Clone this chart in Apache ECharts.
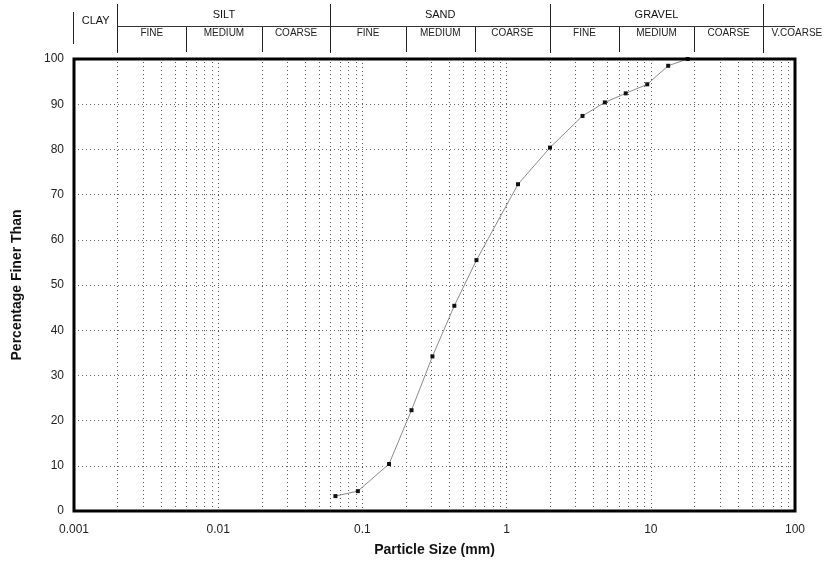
<!DOCTYPE html>
<html>
<head>
<meta charset="utf-8">
<script src="https://cdn.jsdelivr.net/npm/echarts@6/dist/echarts.min.js"></script>
<style>
html,body{margin:0;padding:0;background:#fff;}
#c{width:824px;height:576px;}
</style>
</head>
<body>
<div id="c"></div>
<script>
// ---- data ----
var particleSize = [0.065, 0.093, 0.153, 0.219, 0.306, 0.434, 0.618, 1.2, 2.0, 3.36, 4.8, 6.7, 9.45, 13.2, 18];
var percentFiner = [3.3, 4.4, 10.4, 22.3, 34.2, 45.4, 55.5, 72.3, 80.4, 87.4, 90.4, 92.4, 94.4, 98.5, 100];
var xTickLabels = ['0.001', '0.01', '0.1', '1', '10', '100'];
var yTicks = [0, 10, 20, 30, 40, 50, 60, 70, 80, 90, 100];
var gridDecades = [0.001, 0.01, 0.1, 1, 10];
var gridMultipliers = [2, 3, 4, 5, 6, 7, 8, 9];
var mainDividers = [0.002, 0.06, 2, 60];
var subDividers = [0.006, 0.02, 0.2, 0.6, 6, 20];
var mainBands = [
  {name: 'CLAY', from: 0.001, to: 0.002},
  {name: 'SILT', from: 0.002, to: 0.06},
  {name: 'SAND', from: 0.06, to: 2},
  {name: 'GRAVEL', from: 2, to: 60}
];
var subBands = [
  {name: 'FINE', from: 0.002, to: 0.006},
  {name: 'MEDIUM', from: 0.006, to: 0.02},
  {name: 'COARSE', from: 0.02, to: 0.06},
  {name: 'FINE', from: 0.06, to: 0.2},
  {name: 'MEDIUM', from: 0.2, to: 0.6},
  {name: 'COARSE', from: 0.6, to: 2},
  {name: 'FINE', from: 2, to: 6},
  {name: 'MEDIUM', from: 6, to: 20},
  {name: 'COARSE', from: 20, to: 60},
  {name: 'V.COARSE', from: 60, to: 177}
];

var FONT = '"Liberation Sans", Arial, sans-serif';
var minorValues = [];
gridDecades.forEach(function (d) {
  gridMultipliers.forEach(function (m) { minorValues.push([+(d * m).toPrecision(6)]); });
});

var chart = echarts.init(document.getElementById('c'), null, {renderer: 'canvas'});
var option = {
  animation: false,
  backgroundColor: '#fff',
  grid: {left: 74, right: 29, top: 59, bottom: 65, show: true, borderColor: '#000', borderWidth: 3, backgroundColor: 'transparent', z: 5},
  xAxis: {
    type: 'log', logBase: 10, min: 0.001, max: 100,
    name: 'Particle Size (mm)', nameLocation: 'middle', nameGap: 32,
    nameTextStyle: {fontFamily: FONT, fontSize: 14, fontWeight: 'bold', color: '#111'},
    axisLine: {show: false}, axisTick: {show: false},
    axisLabel: {
      fontFamily: FONT, fontSize: 12, color: '#222', margin: 13,
      formatter: function (v) {
        var i = Math.round(Math.log10(v) + 3);
        return xTickLabels[i] !== undefined ? xTickLabels[i] : '';
      }
    },
    splitLine: {show: true, lineStyle: {color: '#555', width: 1, type: [1, 3]}}
  },
  yAxis: {
    type: 'value', min: 0, max: 100, interval: 10,
    name: 'Percentage Finer Than', nameLocation: 'middle', nameGap: 50,
    nameTextStyle: {fontFamily: FONT, fontSize: 14, fontWeight: 'bold', color: '#111'},
    axisLine: {show: false}, axisTick: {show: false},
    axisLabel: {fontFamily: FONT, fontSize: 12, color: '#222', margin: 10,
      formatter: function (v) { return yTicks.indexOf(v) >= 0 ? String(v) : ''; }},
    splitLine: {show: true, lineStyle: {color: '#666', width: 1, type: [1, 3]}}
  },
  series: [{
    type: 'custom',
    silent: true,
    z: 1,
    data: minorValues,
    renderItem: function (params, api) {
      var p0 = api.coord([api.value(0), 0]);
      var p1 = api.coord([api.value(0), 100]);
      var x = Math.round(p0[0]) + 0.5;
      return {type: 'line', shape: {x1: x, y1: p0[1], x2: x, y2: p1[1]},
        style: {stroke: '#555', lineWidth: 1, lineDash: [1, 3]}};
    }
  }, {
    type: 'line',
    data: particleSize.map(function (x, i) { return [x, percentFiner[i]]; }),
    symbol: 'rect', symbolSize: 4,
    lineStyle: {color: '#8a8a8a', width: 1},
    itemStyle: {color: '#111'},
    z: 3
  }]
};
chart.setOption(option);

// ---- header classification bands (positions from the x axis scale) ----
function px(v) { return chart.convertToPixel({xAxisIndex: 0}, v); }
var g = [];
var lineStyle = {stroke: '#222', lineWidth: 1};
g.push({type: 'line', shape: {x1: Math.round(px(0.001)) - 0.5, y1: 12, x2: Math.round(px(0.001)) - 0.5, y2: 44}, style: lineStyle});
mainDividers.forEach(function (v) {
  var x = Math.round(px(v)) + 0.5;
  g.push({type: 'line', shape: {x1: x, y1: 4, x2: x, y2: 53}, style: lineStyle});
});
subDividers.forEach(function (v) {
  var x = Math.round(px(v)) + 0.5;
  g.push({type: 'line', shape: {x1: x, y1: 26, x2: x, y2: 52}, style: lineStyle});
});
g.push({type: 'line', shape: {x1: px(0.002), y1: 26.5, x2: px(100), y2: 26.5}, style: {stroke: '#333', lineWidth: 1}});
mainBands.forEach(function (b) {
  var x = px(Math.sqrt(b.from * b.to));
  g.push({type: 'text', x: x, y: b.name === 'CLAY' ? 21 : 15,
    style: {text: b.name, fontFamily: FONT, fontSize: 11, fill: '#111', align: 'center', verticalAlign: 'middle'}});
});
subBands.forEach(function (b) {
  var x = px(Math.sqrt(b.from * b.to));
  g.push({type: 'text', x: x, y: 33,
    style: {text: b.name, fontFamily: FONT, fontSize: 10, fill: '#222', align: 'center', verticalAlign: 'middle'}});
});
chart.setOption({graphic: {elements: g}});
</script>
</body>
</html>
